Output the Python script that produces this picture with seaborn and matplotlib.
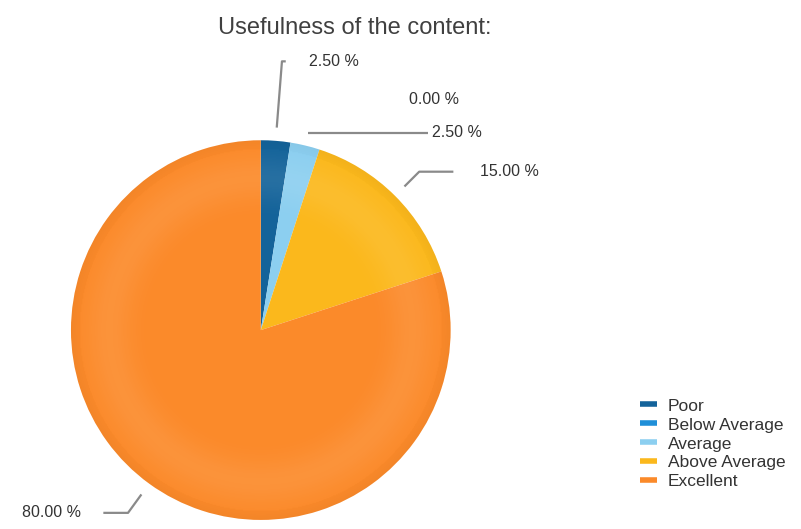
import numpy as np
import matplotlib
matplotlib.use("Agg")
import matplotlib.pyplot as plt
from matplotlib.lines import Line2D
from matplotlib.patches import Circle
import seaborn as sns

# data
categories = ["Poor", "Below Average", "Average", "Above Average", "Excellent"]
shares = [2.5, 0.0, 2.5, 15.0, 80.0]
colors = ["#14639a", "#1f8fd8", "#8ccff0", "#fbb81c", "#fb8a2a"]
title = "Usefulness of the content:"

# leader line layout per slice: (elbow radius, arm length, text gap, draw line)
layout = [(1.42, 0.02, 0.12, True),
          (1.23, 0.49, 0.10, False),
          (1.07, 0.63, 0.02, True),
          (1.18, 0.18, 0.14, True),
          (1.19, 0.13, 0.12, True)]

sns.set_theme(style="white")
plt.rcParams['font.family'] = ['Liberation Sans', 'DejaVu Sans']

fig = plt.figure(figsize=(8.01, 5.29), dpi=100)
ax = fig.add_axes([0.0886, 0.017, 0.474, 0.718])

pal = sns.color_palette(colors)
wedges, _ = ax.pie(shares, colors=pal, startangle=90, counterclock=False,
                   radius=1.0, wedgeprops=dict(linewidth=0))

# soft radial shading like the original renderer
g = np.linspace(-1, 1, 400)
xx, yy = np.meshgrid(g, g)
rr = np.sqrt(xx ** 2 + yy ** 2)
shade = np.zeros((400, 400, 4))
light = np.exp(-((rr - 0.8) / 0.12) ** 2) * 0.08
dark = np.clip((rr - 0.92) / 0.08, 0, 1) * 0.035
shade[..., :3] = np.where(light[..., None] > dark[..., None], 1.0, 0.0)
shade[..., 3] = np.maximum(light, dark)
im = ax.imshow(shade, extent=(-1, 1, -1, 1), origin="lower", zorder=3,
               interpolation="bilinear")
im.set_clip_path(Circle((0, 0), 1.0, transform=ax.transData))

ax.set_xlim(-1, 1)
ax.set_ylim(-1, 1)
ax.set_aspect("equal")
ax.axis("off")

line_col = "#8a8a8a"
for w, val, (r_el, arm, gap, draw) in zip(wedges, shares, layout):
    ang = np.deg2rad((w.theta1 + w.theta2) / 2)
    c, s = np.cos(ang), np.sin(ang)
    side = 1 if c >= 0 else -1
    p0 = (1.07 * c, 1.07 * s)
    p1 = (r_el * c, r_el * s)
    p2 = (p1[0] + side * arm, p1[1])
    if draw:
        ax.plot([p0[0], p1[0], p2[0]], [p0[1], p1[1], p2[1]],
                color=line_col, lw=1.6, clip_on=False, solid_capstyle="butt")
    ax.text(p2[0] + side * gap, p2[1], f"{val:.2f} %",
            ha="left" if side > 0 else "right", va="center",
            fontsize=11.5, color="#333333", clip_on=False)

fig.text(0.443, 0.947, title, ha="center", va="center", fontsize=17,
         color="#404040")

handles = [Line2D([0], [0], color=col, lw=4, solid_capstyle="butt")
           for col in pal]
fig.legend(handles, categories, loc="upper left",
           bbox_to_anchor=(0.79, 0.26), frameon=False, fontsize=12.5,
           handlelength=1.0, handletextpad=0.6, labelspacing=0.22,
           borderaxespad=0, labelcolor="#333333")

fig.savefig("out.png", dpi=100)
